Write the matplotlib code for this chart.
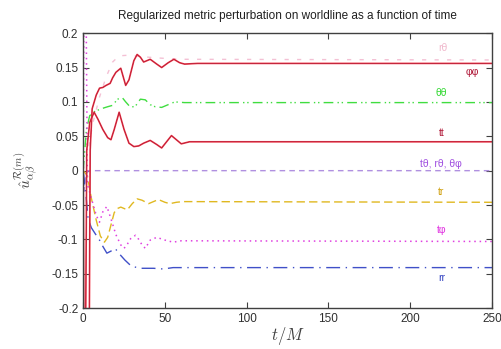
import matplotlib.pyplot as plt

plt.rcParams['font.family'] = ['Liberation Sans', 'DejaVu Sans']
plt.rcParams['mathtext.fontset'] = 'cm'

# --- data (t/M, value) ---
t_phph = [0, 0.5, 3.5, 4.3, 5.5, 8, 10, 12, 14, 16.5, 18, 20, 23, 26, 28, 31, 33, 35, 37, 41, 45, 48, 52, 55.5, 59, 62, 70, 250]
v_phph = [0, -0.35, -0.35, 0.03, 0.09, 0.11, 0.12, 0.121, 0.124, 0.127, 0.135, 0.143, 0.149, 0.124, 0.132, 0.16, 0.169, 0.165, 0.158, 0.162, 0.155, 0.15, 0.157, 0.162, 0.157, 0.155, 0.156, 0.156]

t_tt = [0, 0.3, 1.2, 2.2, 4, 6.7, 9, 12, 15, 17, 19, 22, 25, 28, 31, 34, 37, 41, 45, 48, 51, 54, 57, 60, 65, 250]
v_tt = [0, -0.35, -0.35, 0.03, 0.07, 0.085, 0.075, 0.06, 0.048, 0.045, 0.06, 0.085, 0.06, 0.04, 0.035, 0.036, 0.04, 0.044, 0.038, 0.033, 0.042, 0.051, 0.045, 0.039, 0.042, 0.042]

t_thth = [0, 2, 4, 7, 11, 15, 18, 21, 24, 26, 29, 32, 35, 38, 41, 44, 48, 52, 56, 62, 250]
v_thth = [0, 0.06, 0.08, 0.086, 0.09, 0.093, 0.095, 0.104, 0.106, 0.1, 0.092, 0.094, 0.104, 0.103, 0.096, 0.093, 0.092, 0.096, 0.1, 0.099, 0.099]

t_rth = [0, 3, 6, 10, 14, 18, 22, 28, 35, 45, 60, 250]
v_rth = [0, 0.03, 0.07, 0.107, 0.136, 0.158, 0.167, 0.168, 0.166, 0.164, 0.162, 0.161]

t_zero = [0, 0.5, 1.5, 3, 250]
v_zero = [0, -0.03, -0.01, 0, 0]

t_tr = [0, 2.5, 5, 8, 10.5, 13, 15, 17, 19, 21, 23, 25, 27, 30, 33, 36, 40, 43, 46, 50, 53, 57, 61, 250]
v_tr = [0, -0.007, -0.04, -0.072, -0.095, -0.104, -0.097, -0.079, -0.061, -0.055, -0.053, -0.055, -0.057, -0.048, -0.041, -0.043, -0.048, -0.045, -0.042, -0.046, -0.048, -0.046, -0.045, -0.046]

t_tph = [0, 0.6, 1.6, 2.6, 5, 8, 10, 12, 14.5, 17, 20, 23, 25, 27, 29, 32, 34, 36, 38, 41, 45, 50, 55, 60, 250]
v_tph = [0, 0.3, 0.3, -0.02, -0.04, -0.065, -0.075, -0.06, -0.052, -0.07, -0.093, -0.108, -0.113, -0.107, -0.099, -0.094, -0.1, -0.108, -0.113, -0.101, -0.097, -0.101, -0.104, -0.102, -0.103]

t_rr = [0, 1.5, 3, 5, 8, 10, 12, 14.5, 17, 19.5, 22.5, 25.5, 29.5, 35, 43, 49, 55, 250]
v_rr = [0, -0.03, -0.07, -0.083, -0.094, -0.101, -0.11, -0.12, -0.117, -0.113, -0.122, -0.13, -0.139, -0.142, -0.142, -0.143, -0.141, -0.141]

labels = ['rθ', 'φφ', 'θθ', 'tt', 'tθ, rθ, θφ', 'tr', 'tφ', 'rr']
label_t = [220, 238, 219, 219, 219, 219, 219, 219]
label_v = [0.178, 0.143, 0.113, 0.055, 0.009, -0.031, -0.087, -0.156]
label_c = ['#f0b8cc', '#b01838', '#30d830', '#b01838', '#a050e0', '#d0a010', '#e030e0', '#3040c0']

fig = plt.figure(figsize=(5.01, 3.49), dpi=100)
ax = fig.add_axes([0.166, 0.117, 0.816, 0.788])

ax.plot(t_rth, v_rth, color='#f4c0d4', lw=1.0, dashes=(3, 6))
ax.plot(t_zero, v_zero, color='#b090e0', lw=1.0, dashes=(4, 3))
ax.plot(t_thth, v_thth, color='#40dd40', lw=1.0, dashes=(7, 3, 1, 2, 1, 3))
ax.plot(t_tr, v_tr, color='#e0b820', lw=1.0, dashes=(6, 3))
ax.plot(t_tph, v_tph, color='#e040e0', lw=1.1, dashes=(1, 2.5))
ax.plot(t_rr, v_rr, color='#4050c8', lw=1.0, dashes=(10, 4, 1, 4))
for t, v in [(t_phph, v_phph), (t_tt, v_tt)]:
    ax.plot(t, v, color='#f03848', lw=1.2)
    ax.plot(t, v, color='#901030', lw=0.4, alpha=0.8)

for s, x, y, c in zip(labels, label_t, label_v, label_c):
    ax.text(x, y, s, color=c, fontsize=7.5, ha='center', va='center')

ax.set_xlim(0, 250)
ax.set_ylim(-0.2, 0.2)
ax.set_xticks([0, 50, 100, 150, 200, 250])
ax.set_yticks([-0.2, -0.15, -0.1, -0.05, 0, 0.05, 0.1, 0.15, 0.2])
ax.set_yticklabels(['-0.2', '-0.15', '-0.1', '-0.05', '0', '0.05', '0.1', '0.15', '0.2'])
ax.tick_params(direction='in', length=4, width=0.8, top=True, right=True,
               labelsize=8.5, labelcolor='#303030', color='#404040')
for sp in ax.spines.values():
    sp.set_color('#404040')
    sp.set_linewidth(1.0)

ax.set_title('Regularized metric perturbation on worldline as a function of time',
             fontsize=8.5, color='#202020', pad=10)
ax.set_xlabel(r'$t/M$', fontsize=12, color='#404040', labelpad=0)
ax.set_ylabel(r'$\hat{u}^{\mathcal{R}(m)}_{\alpha\beta}$', fontsize=11, color='#404040', labelpad=8)

fig.savefig('out.png', dpi=100)
